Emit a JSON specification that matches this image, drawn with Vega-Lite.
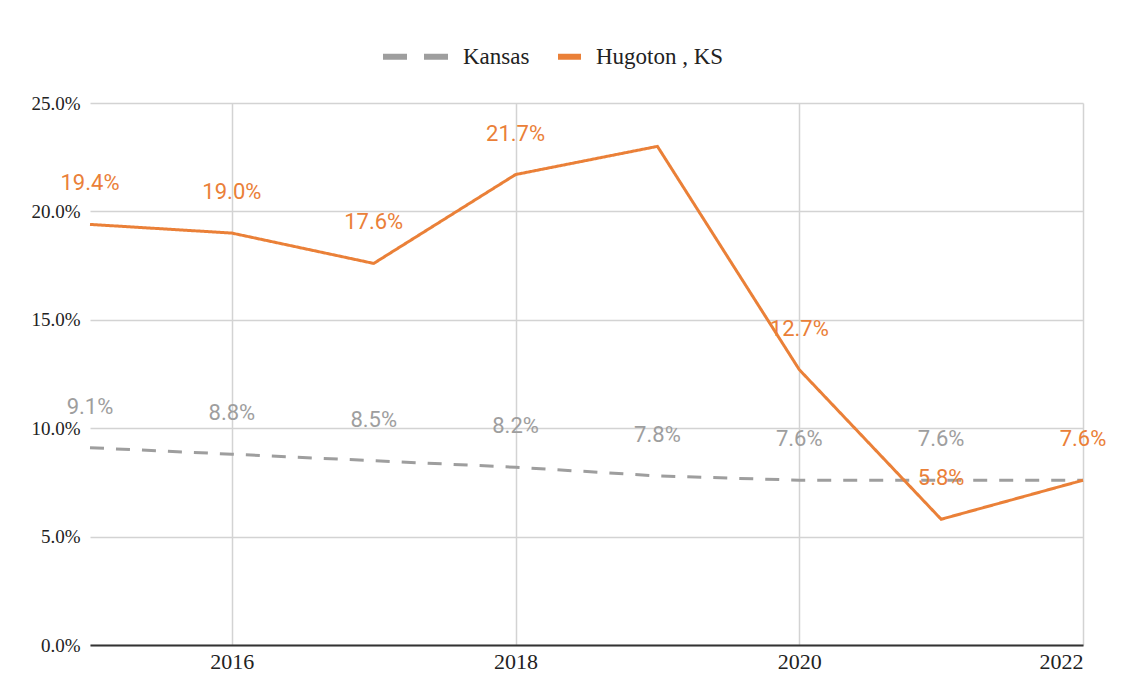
{
  "$schema": "https://vega.github.io/schema/vega-lite/v6.json",
  "width": 993,
  "height": 542,
  "padding": {"left": 30, "top": 42, "right": 52, "bottom": 5},
  "background": "white",
  "config": {"view": {"stroke": null}, "font": "Liberation Serif"},
  "data": {
    "values": [
      {"year": 2015, "series": "Kansas", "value": 0.091, "label": "9.1%"},
      {"year": 2016, "series": "Kansas", "value": 0.088, "label": "8.8%"},
      {"year": 2017, "series": "Kansas", "value": 0.085, "label": "8.5%"},
      {"year": 2018, "series": "Kansas", "value": 0.082, "label": "8.2%"},
      {"year": 2019, "series": "Kansas", "value": 0.078, "label": "7.8%"},
      {"year": 2020, "series": "Kansas", "value": 0.076, "label": "7.6%"},
      {"year": 2021, "series": "Kansas", "value": 0.076, "label": "7.6%"},
      {"year": 2022, "series": "Kansas", "value": 0.076, "label": ""},
      {"year": 2015, "series": "Hugoton , KS", "value": 0.194, "label": "19.4%"},
      {"year": 2016, "series": "Hugoton , KS", "value": 0.190, "label": "19.0%"},
      {"year": 2017, "series": "Hugoton , KS", "value": 0.176, "label": "17.6%"},
      {"year": 2018, "series": "Hugoton , KS", "value": 0.217, "label": "21.7%"},
      {"year": 2019, "series": "Hugoton , KS", "value": 0.230, "label": ""},
      {"year": 2020, "series": "Hugoton , KS", "value": 0.127, "label": "12.7%"},
      {"year": 2021, "series": "Hugoton , KS", "value": 0.058, "label": "5.8%"},
      {"year": 2022, "series": "Hugoton , KS", "value": 0.076, "label": "7.6%"}
    ]
  },
  "encoding": {
    "x": {
      "field": "year", "type": "quantitative",
      "scale": {"domain": [2015, 2022], "nice": false, "zero": false},
      "axis": {"values": [2016, 2018, 2020, 2022], "format": "d", "title": null, "grid": true, "gridColor": "#d3d3d3", "gridWidth": 1.5, "domainColor": "#333333", "domainWidth": 2, "ticks": false, "labelFont": "Liberation Serif", "labelFontSize": 22, "labelColor": "#222222", "labelPadding": 6}
    },
    "y": {
      "field": "value", "type": "quantitative",
      "scale": {"domain": [0, 0.25], "nice": false},
      "axis": {"values": [0, 0.05, 0.1, 0.15, 0.2, 0.25], "format": ".1%", "title": null, "domain": false, "ticks": false, "grid": true, "gridColor": "#d3d3d3", "gridWidth": 1.5, "labelFont": "Liberation Serif", "labelFontSize": 19, "labelColor": "#222222", "labelPadding": 10}
    }
  },
  "layer": [
    {
      "mark": {"type": "line", "strokeWidth": 3},
      "encoding": {
        "color": {
          "field": "series", "type": "nominal",
          "scale": {"domain": ["Kansas", "Hugoton , KS"], "range": ["#9e9e9e", "#ea8038"]},
          "legend": {"orient": "none", "legendX": 293, "legendY": -61, "direction": "horizontal", "title": null, "labelFont": "Liberation Serif", "labelFontSize": 23, "labelColor": "#222222", "symbolType": "stroke", "symbolStrokeWidth": 6, "symbolSize": 4356, "symbolDash": [24, 17], "columnPadding": 16, "labelOffset": 14,
            "encode": {
              "symbols": {"update": {"size": {"signal": "datum.value == 'Kansas' ? 4356 : 529"}, "xc": {"signal": "datum.value == 'Kansas' ? 33 : 11.5"}}},
              "labels": {"update": {"x": {"signal": "datum.value == 'Kansas' ? 80 : 38"}}}
            }}
        },
        "strokeDash": {
          "condition": {"test": "datum.series == 'Kansas'", "value": [14, 12]},
          "value": [1, 0]
        }
      }
    },
    {
      "mark": {"type": "text", "dy": -41, "font": "Roboto", "fontSize": 22},
      "encoding": {
        "text": {"field": "label", "type": "nominal"},
        "color": {
          "field": "series", "type": "nominal", "legend": null,
          "scale": {"domain": ["Kansas", "Hugoton , KS"], "range": ["#a3a3a3", "#ea8038"]}
        }
      }
    }
  ]
}
